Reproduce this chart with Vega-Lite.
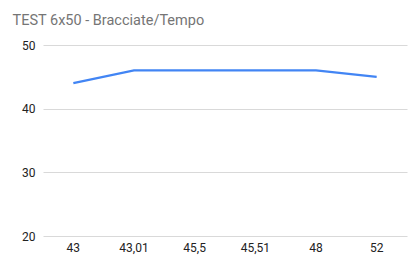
{
  "$schema": "https://vega.github.io/schema/vega-lite/v6.json",
  "width": 364,
  "height": 191,
  "autosize": "none",
  "padding": {"left": 43, "top": 45, "right": 2, "bottom": 31},
  "background": "white",
  "title": {
    "text": "TEST 6x50 - Bracciate/Tempo",
    "anchor": "start",
    "dx": -9,
    "offset": 0,
    "baseline": "alphabetic",
    "font": "Roboto",
    "fontSize": 14.5,
    "fontWeight": "normal",
    "color": "#757575"
  },
  "config": {
    "view": {"stroke": null},
    "axis": {
      "labelFont": "Roboto",
      "labelFontSize": 12,
      "labelColor": "#222222",
      "domain": false,
      "ticks": false,
      "title": null
    }
  },
  "data": {
    "values": [
      {"tempo": "43", "bracciate": 44},
      {"tempo": "43,01", "bracciate": 46},
      {"tempo": "45,5", "bracciate": 46},
      {"tempo": "45,51", "bracciate": 46},
      {"tempo": "48", "bracciate": 46},
      {"tempo": "52", "bracciate": 45}
    ]
  },
  "mark": {"type": "line", "color": "#4285F4", "strokeWidth": 2.2},
  "encoding": {
    "x": {
      "field": "tempo",
      "type": "ordinal",
      "sort": null,
      "scale": {"type": "band", "paddingInner": 0, "paddingOuter": 0},
      "axis": {"labelAngle": 0, "grid": false, "labelPadding": 6}
    },
    "y": {
      "field": "bracciate",
      "type": "quantitative",
      "scale": {"domain": [20, 50], "nice": false, "zero": false},
      "axis": {"values": [20, 30, 40, 50], "grid": true, "gridColor": "#d9d9d9", "labelPadding": 8}
    }
  }
}
